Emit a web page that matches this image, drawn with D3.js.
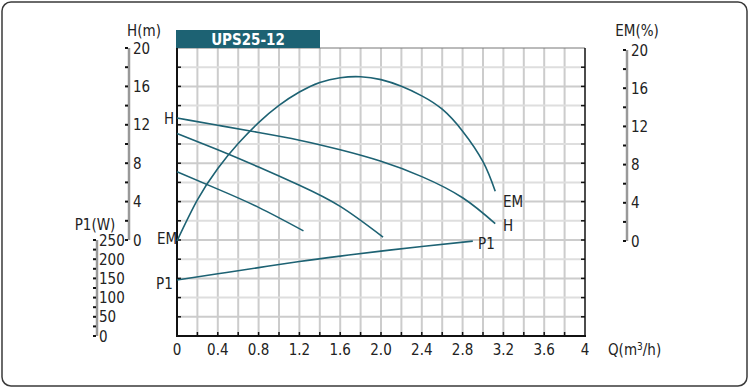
<!DOCTYPE html>
<html>
<head>
<meta charset="utf-8">
<script src="https://cdn.jsdelivr.net/npm/d3@7"></script>
<style>
  body { margin: 0; background: #fff; }
  text { font-family: "DejaVu Sans", sans-serif; font-stretch: condensed; fill: #222; }
</style>
</head>
<body>
<svg width="750" height="389"></svg>
<script>
// pump curves
var hQ1 = [0, 0.4, 0.8, 1.2, 1.6, 2.0, 2.4, 2.8, 3.12];
var hV1 = [12.7, 11.95, 11.2, 10.4, 9.4, 8.2, 6.6, 4.4, 1.7];
var hQ2 = [0, 0.4, 0.8, 1.2, 1.6, 2.02];
var hV2 = [11.1, 9.4, 7.6, 5.7, 3.5, 0.3];
var hQ3 = [0, 0.4, 0.8, 1.24];
var hV3 = [7.1, 5.3, 3.4, 0.95];
var emQ = [0, 0.2, 0.4, 0.6, 0.8, 1.0, 1.2, 1.4, 1.6, 1.8, 2.0, 2.2, 2.4, 2.6, 2.8, 3.0, 3.12];
var emV = [0, 4.3, 7.6, 10.2, 12.4, 14.2, 15.6, 16.6, 17.1, 17.2, 16.9, 16.2, 15.2, 13.8, 11.5, 8.3, 5.2];
var pQ = [0, 0.4, 0.8, 1.2, 1.6, 2.0, 2.4, 2.9];
var pV = [146, 162, 178, 194, 208, 221, 233, 247];

var xTicks = [0, 0.4, 0.8, 1.2, 1.6, 2.0, 2.4, 2.8, 3.2, 3.6, 4];
var xTickLabels = ["0", "0.4", "0.8", "1.2", "1.6", "2.0", "2.4", "2.8", "3.2", "3.6", "4"];
var hTicks = [0, 4, 8, 12, 16, 20];
var emTicks = [0, 4, 8, 12, 16, 20];
var pTicks = [0, 50, 100, 150, 200, 250];

var svg = d3.select('svg');
var teal = '#1d6273';

var x = d3.scaleLinear([0, 4], [177, 585]);
var yH = d3.scaleLinear([-10, 20], [336, 48]);
var yEM = d3.scaleLinear([0, 20], [241, 50]);
var yP = d3.scaleLinear([0, 250], [336, 240]);

// outer rounded frame
svg.append('rect')
    .attr('x', 2).attr('y', 2).attr('width', 745).attr('height', 384)
    .attr('rx', 9).attr('fill', 'none').attr('stroke', '#3a3a3a').attr('stroke-width', 1.5);

// grid
var grid = svg.append('g');
grid.selectAll('line.v')
    .data(d3.range(1, 20).map(function (i) { return i * 0.2; }))
    .enter().append('line')
    .attr('x1', function (d) { return x(d); }).attr('x2', function (d) { return x(d); })
    .attr('y1', 48).attr('y2', 336)
    .attr('stroke', '#cccccc').attr('stroke-width', 2);
grid.selectAll('line.h')
    .data(d3.range(-8, 20, 2))
    .enter().append('line')
    .attr('x1', 177).attr('x2', 585)
    .attr('y1', function (d) { return yH(d); }).attr('y2', function (d) { return yH(d); })
    .attr('stroke', function (d) { return d % 4 === 0 ? '#cccccc' : '#dedede'; })
    .attr('stroke-width', 2);

// plot frame
svg.append('line').attr('x1', 177).attr('x2', 585).attr('y1', 48).attr('y2', 48)
    .attr('stroke', '#777').attr('stroke-width', 1);
svg.append('line').attr('x1', 177).attr('x2', 177).attr('y1', 48).attr('y2', 337)
    .attr('stroke', '#111').attr('stroke-width', 2);
svg.append('line').attr('x1', 176).attr('x2', 586).attr('y1', 336).attr('y2', 336)
    .attr('stroke', '#111').attr('stroke-width', 2);
svg.append('line').attr('x1', 585).attr('x2', 585).attr('y1', 48).attr('y2', 337)
    .attr('stroke', '#111').attr('stroke-width', 1.5);

// frame tick marks
svg.append('g').selectAll('line')
    .data(d3.range(1, 20).map(function (i) { return i * 0.2; }))
    .enter().append('line')
    .attr('x1', function (d) { return x(d); }).attr('x2', function (d) { return x(d); })
    .attr('y1', 332).attr('y2', 336)
    .attr('stroke', '#111').attr('stroke-width', 1.5);
svg.append('g').selectAll('line')
    .data(d3.range(-8, 20, 2))
    .enter().append('line')
    .attr('x1', 581).attr('x2', 585)
    .attr('y1', function (d) { return yH(d); }).attr('y2', function (d) { return yH(d); })
    .attr('stroke', '#111').attr('stroke-width', 1.5);
svg.append('g').selectAll('line')
    .data(d3.range(-8, 20, 2))
    .enter().append('line')
    .attr('x1', 177).attr('x2', 181)
    .attr('y1', function (d) { return yH(d); }).attr('y2', function (d) { return yH(d); })
    .attr('stroke', '#111').attr('stroke-width', 1.5);

// title box
svg.append('rect').attr('x', 176).attr('y', 30).attr('width', 144).attr('height', 18).attr('fill', teal);
svg.append('text').attr('x', 248).attr('y', 44.5).attr('text-anchor', 'middle')
    .style('fill', '#fff').style('font-weight', 'bold').style('font-size', '15px')
    .text('UPS25-12');

// side axes: gray line, small black minor ticks, labels
function sideAxis(scale, ax, ticks, step, labelX, title, titleX, titleY) {
    var g = svg.append('g');
    var d0 = ticks[0], d1 = ticks[ticks.length - 1];
    g.append('line').attr('x1', ax).attr('x2', ax)
        .attr('y1', scale(d0)).attr('y2', scale(d1))
        .attr('stroke', '#999').attr('stroke-width', 2.5);
    g.selectAll('line.t').data(d3.range(d0, d1 + step / 2, step)).enter().append('line')
        .attr('x1', ax - 4).attr('x2', ax - 1)
        .attr('y1', function (d) { return scale(d); }).attr('y2', function (d) { return scale(d); })
        .attr('stroke', '#111').attr('stroke-width', 2);
    g.selectAll('text.l').data(ticks).enter().append('text')
        .attr('x', labelX).attr('y', function (d) { return scale(d) + 5.5; })
        .style('font-size', '15px')
        .text(function (d) { return d; });
    g.append('text').attr('x', titleX).attr('y', titleY).attr('text-anchor', 'middle')
        .style('font-size', '15px').text(title);
}
sideAxis(yH, 129, hTicks, 2, 133, 'H(m)', 144, 36);
sideAxis(yEM, 627, emTicks, 2, 631, 'EM(%)', 637, 36);
sideAxis(yP, 97, pTicks, 25, 99, 'P1(W)', 95, 230);

// x axis labels
svg.append('g').selectAll('text')
    .data(xTicks).enter().append('text')
    .attr('x', function (d) { return x(d); }).attr('y', 355)
    .attr('text-anchor', 'middle').style('font-size', '15px')
    .text(function (d, i) { return xTickLabels[i]; });
svg.append('text').attr('x', 608).attr('y', 355).style('font-size', '15px')
    .html('Q(m<tspan dy="-5" style="font-size:10px">3</tspan><tspan dy="5">/h)</tspan>');

// curves
function curve(qs, vs, ys) {
    var pts = qs.map(function (q, i) { return [x(q), ys(vs[i])]; });
    svg.append('path')
        .attr('d', d3.line().curve(d3.curveNatural)(pts))
        .attr('fill', 'none').attr('stroke', teal).attr('stroke-width', 1.6);
}
curve(hQ1, hV1, yH);
curve(hQ2, hV2, yH);
curve(hQ3, hV3, yH);
curve(emQ, emV, yEM);
curve(pQ, pV, yP);

// curve names
var names = [
    {t: 'H', x: 164, y: 124}, {t: 'EM', x: 157, y: 244}, {t: 'P1', x: 156, y: 289},
    {t: 'EM', x: 503, y: 207}, {t: 'H', x: 503, y: 231}, {t: 'P1', x: 478, y: 249}
];
svg.append('g').selectAll('text').data(names).enter().append('text')
    .attr('x', function (d) { return d.x; }).attr('y', function (d) { return d.y; })
    .style('font-size', '15px').text(function (d) { return d.t; });
</script>
</body>
</html>
